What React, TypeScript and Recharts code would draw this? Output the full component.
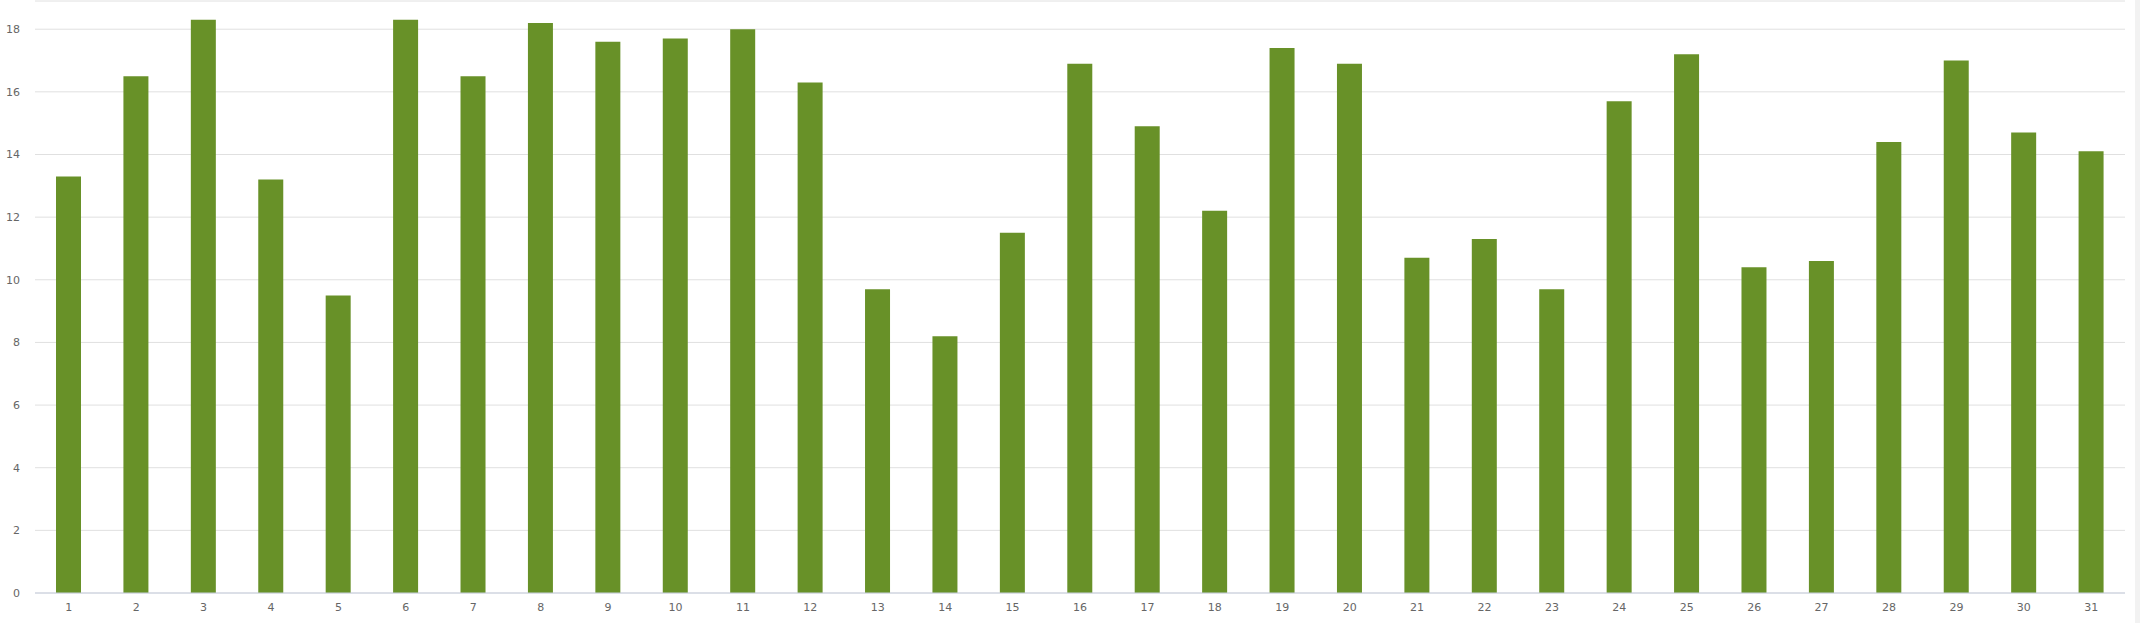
import React from "react";
import { BarChart, Bar, XAxis, YAxis, CartesianGrid } from "recharts";

const days = [
  "1", "2", "3", "4", "5", "6", "7", "8", "9", "10", "11", "12", "13", "14", "15", "16",
  "17", "18", "19", "20", "21", "22", "23", "24", "25", "26", "27", "28", "29", "30", "31",
];
const values = [
  13.3, 16.5, 18.3, 13.2, 9.5, 18.3, 16.5, 18.2, 17.6, 17.7, 18.0, 16.3, 9.7, 8.2, 11.5, 16.9,
  14.9, 12.2, 17.4, 16.9, 10.7, 11.3, 9.7, 15.7, 17.2, 10.4, 10.6, 14.4, 17.0, 14.7, 14.1,
];
const yTicks = [0, 2, 4, 6, 8, 10, 12, 14, 16, 18];

const data = days.map((d, i) => ({ day: d, value: values[i] }));

const tickStyle = { fill: "#666666", fontSize: 11, fontFamily: "DejaVu Sans, sans-serif" };

export default function App() {
  return (
    <div style={{ position: "relative", width: 2140, height: 623, background: "#ffffff" }}>
      <style>{`body{margin:0}`}</style>
      <BarChart width={2135} height={623} data={data}
        margin={{ top: 1, right: 10, left: 0, bottom: 0 }}>
        <CartesianGrid vertical={false} stroke="#e0e0e0" />
        <XAxis dataKey="day" height={30} tick={tickStyle} tickLine={false}
          tickSize={0} tickMargin={10} axisLine={{ stroke: "#c8cfdf" }} interval={0} />
        <YAxis width={35} domain={[0, 18.9]} ticks={yTicks} allowDataOverflow
          tick={tickStyle} axisLine={false} tickLine={false} tickSize={6} tickMargin={9} />
        <Bar dataKey="value" fill="#689128" barSize={25} isAnimationActive={false} />
      </BarChart>
      <div style={{ position: "absolute", left: 2135, top: 0, width: 5, height: 623, background: "#f2f2f2" }} />
    </div>
  );
}
